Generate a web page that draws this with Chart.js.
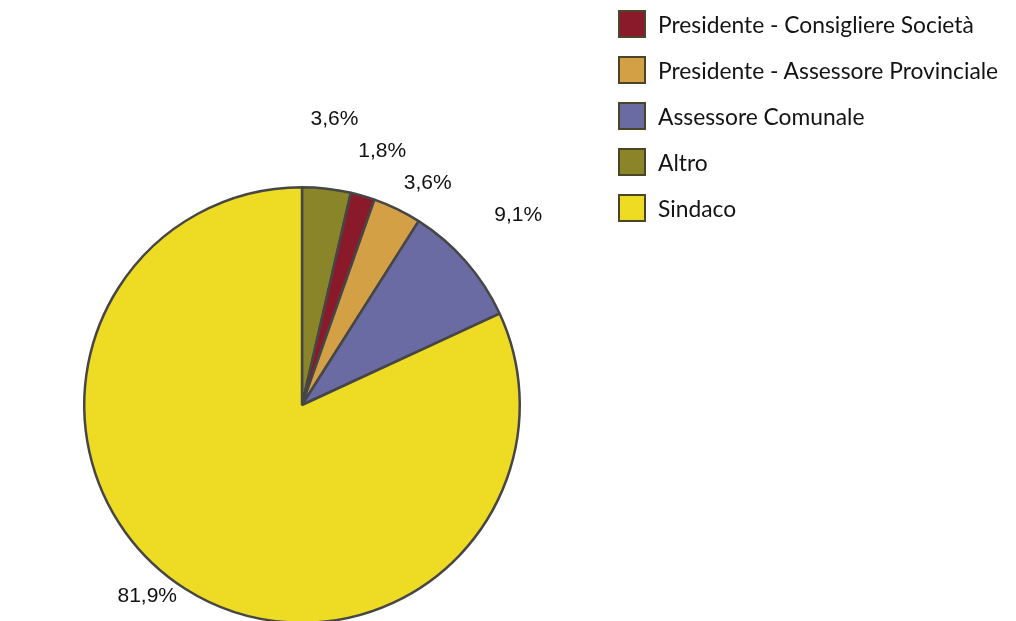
<!DOCTYPE html>
<html>
<head>
<meta charset="utf-8">
<script src="https://cdn.jsdelivr.net/npm/chart.js@4/dist/chart.umd.min.js"></script>
<style>
  html, body { margin: 0; padding: 0; background: #fff; overflow: hidden; }
  #wrap { position: relative; width: 1016px; height: 621px; overflow: hidden; }
  #pieChart { position: absolute; left: 0; top: 0; }
  #legend { position: absolute; left: 618px; top: 10px; font-family: 'Lato', sans-serif; font-size: 22.8px; color: #141414; }
  .item { display: flex; align-items: center; height: 28px; margin-bottom: 18px; }
  .box { width: 24px; height: 24px; border: 2px solid #4b4527; margin-right: 12px; }
</style>
</head>
<body>
<div id="wrap">
  <canvas id="pieChart" width="1016" height="630"></canvas>
  <div id="legend"></div>
</div>
<script>
// Slices in drawing order, clockwise from 12 o'clock
const categories = ['Altro', 'Presidente - Consigliere Società', 'Presidente - Assessore Provinciale', 'Assessore Comunale', 'Sindaco'];
const shares = [3.6, 1.8, 3.6, 9.1, 81.9];
const sliceColors = ['#8b8529', '#8a1a2a', '#d3a046', '#6b6ba3', '#eedb24'];
// Legend lists the categories in a different order
const legendOrder = [1, 2, 3, 0, 4];

const legendEl = document.getElementById('legend');
legendOrder.forEach(function (i) {
    const row = document.createElement('div');
    row.className = 'item';
    const box = document.createElement('div');
    box.className = 'box';
    box.style.background = sliceColors[i];
    const txt = document.createElement('span');
    txt.textContent = categories[i];
    row.appendChild(box);
    row.appendChild(txt);
    legendEl.appendChild(row);
});

// Percent labels outside the pie, pushed apart when they crowd
const outsideLabels = {
    id: 'outsideLabels',
    afterDatasetsDraw: function (chart) {
        const ctx = chart.ctx;
        const arcs = chart.getDatasetMeta(0).data;
        const pts = arcs.map(function (arc, i) {
            const p = arc.getProps(['x', 'y', 'startAngle', 'endAngle', 'outerRadius'], true);
            const mid = (p.startAngle + p.endAngle) / 2;
            const r = p.outerRadius * 1.32;
            return {
                x: p.x + Math.cos(mid) * r,
                y: p.y + Math.sin(mid) * r,
                cx: p.x,
                text: shares[i].toFixed(1).replace('.', ',') + '%'
            };
        });
        const right = pts.filter(function (p) { return p.x >= p.cx; }).sort(function (a, b) { return a.y - b.y; });
        for (let i = 1; i < right.length; i++) {
            if (right[i].y - right[i - 1].y < 32) right[i].y = right[i - 1].y + 32;
        }
        ctx.save();
        ctx.font = '21px "Liberation Sans", Arial, sans-serif';
        ctx.fillStyle = '#111';
        ctx.textAlign = 'center';
        ctx.textBaseline = 'middle';
        pts.forEach(function (p) {
            const y = Math.min(Math.max(p.y, 14), 596);
            ctx.fillText(p.text, p.x, y);
        });
        ctx.restore();
    }
};

const pieCtx = document.getElementById('pieChart').getContext('2d');

new Chart(pieCtx, {
    type: 'pie',
    data: {
        labels: categories,
        datasets: [{
            data: shares,
            backgroundColor: sliceColors,
            borderColor: '#464646',
            borderWidth: 2.5
        }]
    },
    options: {
        responsive: false,
        animation: false,
        layout: {
            padding: { left: 83, top: 186, right: 495, bottom: 6 }
        },
        plugins: {
            legend: { display: false },
            tooltip: { enabled: false }
        }
    },
    plugins: [outsideLabels]
});
</script>
</body>
</html>
